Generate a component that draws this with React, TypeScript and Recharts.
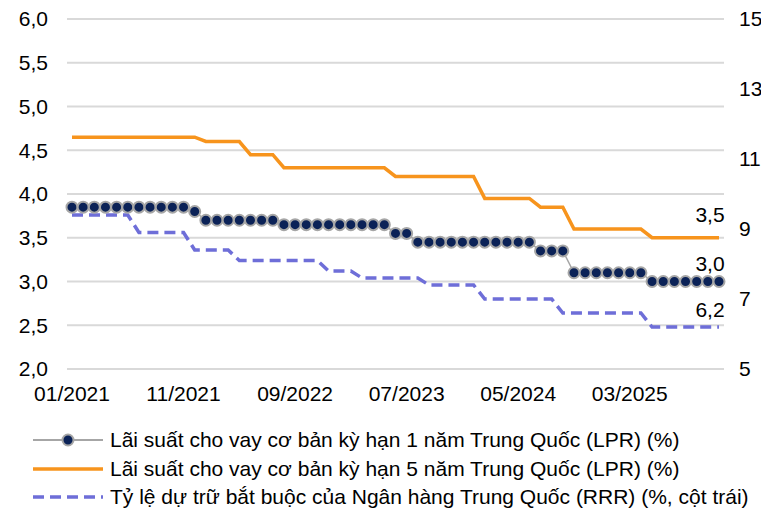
import React from 'react';
import { LineChart, Line, XAxis, YAxis, CartesianGrid, Legend, LabelList } from 'recharts';

const months = [
  '01/2021','02/2021','03/2021','04/2021','05/2021','06/2021','07/2021','08/2021','09/2021','10/2021','11/2021','12/2021',
  '01/2022','02/2022','03/2022','04/2022','05/2022','06/2022','07/2022','08/2022','09/2022','10/2022','11/2022','12/2022',
  '01/2023','02/2023','03/2023','04/2023','05/2023','06/2023','07/2023','08/2023','09/2023','10/2023','11/2023','12/2023',
  '01/2024','02/2024','03/2024','04/2024','05/2024','06/2024','07/2024','08/2024','09/2024','10/2024','11/2024','12/2024',
  '01/2025','02/2025','03/2025','04/2025','05/2025','06/2025','07/2025','08/2025','09/2025','10/2025','11/2025',
];

const lpr1y = [
  3.85,3.85,3.85,3.85,3.85,3.85,3.85,3.85,3.85,3.85,3.85,3.80,
  3.70,3.70,3.70,3.70,3.70,3.70,3.70,3.65,3.65,3.65,3.65,3.65,
  3.65,3.65,3.65,3.65,3.65,3.55,3.55,3.45,3.45,3.45,3.45,3.45,
  3.45,3.45,3.45,3.45,3.45,3.45,3.35,3.35,3.35,3.10,3.10,3.10,
  3.10,3.10,3.10,3.10,3.00,3.00,3.00,3.00,3.00,3.00,3.00,
];

const lpr5y = [
  4.65,4.65,4.65,4.65,4.65,4.65,4.65,4.65,4.65,4.65,4.65,4.65,
  4.60,4.60,4.60,4.60,4.45,4.45,4.45,4.30,4.30,4.30,4.30,4.30,
  4.30,4.30,4.30,4.30,4.30,4.20,4.20,4.20,4.20,4.20,4.20,4.20,
  4.20,3.95,3.95,3.95,3.95,3.95,3.85,3.85,3.85,3.60,3.60,3.60,
  3.60,3.60,3.60,3.60,3.50,3.50,3.50,3.50,3.50,3.50,3.50,
];

const rrr = [
  9.4,9.4,9.4,9.4,9.4,9.4,8.9,8.9,8.9,8.9,8.9,8.4,
  8.4,8.4,8.4,8.1,8.1,8.1,8.1,8.1,8.1,8.1,8.1,7.8,
  7.8,7.8,7.6,7.6,7.6,7.6,7.6,7.6,7.4,7.4,7.4,7.4,
  7.4,7.0,7.0,7.0,7.0,7.0,7.0,7.0,6.6,6.6,6.6,6.6,
  6.6,6.6,6.6,6.6,6.2,6.2,6.2,6.2,6.2,6.2,6.2,
];

const leftTicks = [2.0, 2.5, 3.0, 3.5, 4.0, 4.5, 5.0, 5.5, 6.0];
const rightTicks = [5, 7, 9, 11, 13, 15];

const seriesNames = [
  'Lãi suất cho vay cơ bản kỳ hạn 1 năm Trung Quốc (LPR) (%)',
  'Lãi suất cho vay cơ bản kỳ hạn 5 năm Trung Quốc (LPR) (%)',
  'Tỷ lệ dự trữ bắt buộc của Ngân hàng Trung Quốc (RRR) (%, cột trái)',
];

const data = months.map((m, i) => ({ month: m, lpr1y: lpr1y[i], lpr5y: lpr5y[i], rrr: rrr[i] }));

const FONT = '"Liberation Sans", Arial, Helvetica, sans-serif';
const FS = 21;
const NAVY = '#0B2257';
const GRAY = '#A6A6A6';
const ORANGE = '#F7941D';
const PURPLE = '#6E6ED8';
const DASH = '11 6';

const fmt = (v: number) => v.toFixed(1).replace('.', ',');

const lastIndex = months.length - 1;

const makeEndLabel = (rise: number) => (props: any) => {
  if (props.index !== lastIndex) return null;
  const vb = props.viewBox || {};
  const x = vb.x ?? props.x;
  const y = vb.y ?? props.y;
  return (
    <text x={x - 9} y={y - rise} textAnchor="middle" dominantBaseline="central" fontSize={FS} fontFamily={FONT} fill="#000">
      {fmt(Number(props.value))}
    </text>
  );
};

const renderLegend = () => {
  const row = (icon: React.ReactNode, label: string) => (
    <div style={{ display: 'flex', alignItems: 'center', height: 28.5 }}>
      <svg width={70} height={16} style={{ marginLeft: 33, marginRight: 7, flex: 'none' }}>{icon}</svg>
      <span style={{ fontFamily: FONT, fontSize: FS, color: '#000', whiteSpace: 'nowrap', lineHeight: '28px' }}>{label}</span>
    </div>
  );
  return (
    <div style={{ height: 100, paddingTop: 14, boxSizing: 'border-box' }}>
      {row(
        <g>
          <line x1={0} y1={8} x2={70} y2={8} stroke={GRAY} strokeWidth={2} />
          <circle cx={35} cy={8} r={5.5} fill={NAVY} stroke={GRAY} strokeWidth={2} />
        </g>,
        seriesNames[0]
      )}
      {row(<line x1={0} y1={8} x2={70} y2={8} stroke={ORANGE} strokeWidth={3.5} />, seriesNames[1])}
      {row(<line x1={0} y1={8} x2={70} y2={8} stroke={PURPLE} strokeWidth={3.5} strokeDasharray={DASH} />, seriesNames[2])}
    </div>
  );
};

export default function App() {
  return (
    <div style={{ position: 'absolute', left: 0, top: 0, width: 761, height: 512, background: '#fff', overflow: 'hidden' }}>
      <LineChart width={761} height={512} data={data} margin={{ top: 19, right: 0, bottom: 0, left: 0 }}>
        <CartesianGrid yAxisId="left" vertical={false} stroke="#D9D9D9" strokeWidth={2} />
        <XAxis
          dataKey="month"
          interval={9}
          tickLine={false}
          axisLine={false}
          padding={{ left: 5, right: 5 }}
          tickSize={0}
          tickMargin={17}
          height={43}
          tick={{ fontSize: FS, fill: '#000', fontFamily: FONT }}
        />
        <YAxis
          yAxisId="left"
          domain={[2, 6]}
          ticks={leftTicks}
          width={67}
          tickLine={false}
          axisLine={false}
          tickSize={0}
          tickMargin={19}
          tickFormatter={fmt}
          tick={{ fontSize: FS, fill: '#000', fontFamily: FONT }}
        />
        <YAxis
          yAxisId="right"
          orientation="right"
          domain={[5, 15]}
          ticks={rightTicks}
          width={37}
          tickLine={false}
          axisLine={false}
          tickSize={0}
          tickMargin={15}
          tick={{ fontSize: FS, fill: '#000', fontFamily: FONT, textAnchor: 'start' }}
        />
        <Legend verticalAlign="bottom" align="left" content={renderLegend} />
        <Line
          yAxisId="right"
          dataKey="rrr"
          type="linear"
          stroke={PURPLE}
          strokeWidth={3.5}
          strokeDasharray={DASH}
          dot={false}
          activeDot={false}
          isAnimationActive={false}
        >
          <LabelList dataKey="rrr" content={makeEndLabel(18)} />
        </Line>
        <Line
          yAxisId="left"
          dataKey="lpr5y"
          type="linear"
          stroke={ORANGE}
          strokeWidth={3.5}
          dot={false}
          activeDot={false}
          isAnimationActive={false}
        >
          <LabelList dataKey="lpr5y" content={makeEndLabel(23)} />
        </Line>
        <Line
          yAxisId="left"
          dataKey="lpr1y"
          type="linear"
          stroke={GRAY}
          strokeWidth={1.5}
          dot={{ r: 5.5, fill: NAVY, stroke: GRAY, strokeWidth: 2 }}
          activeDot={false}
          isAnimationActive={false}
        >
          <LabelList dataKey="lpr1y" content={makeEndLabel(18)} />
        </Line>
      </LineChart>
    </div>
  );
}
